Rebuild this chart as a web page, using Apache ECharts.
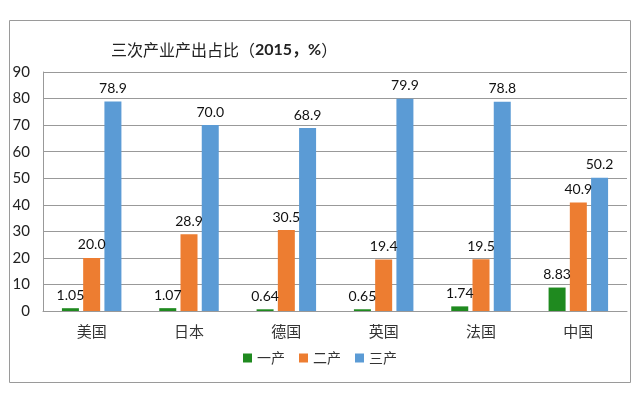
<!DOCTYPE html>
<html><head><meta charset="utf-8">
<script src="https://cdn.jsdelivr.net/npm/echarts@6/dist/echarts.min.js"></script>
<style>html,body{margin:0;padding:0;background:#fff}#c{width:640px;height:394px}</style>
</head><body><div id="c"></div>
<script>
const categories = ['美国','日本','德国','英国','法国','中国'];
const primary = [1.05, 1.07, 0.64, 0.65, 1.74, 8.83];
const secondary = [20.0, 28.9, 30.5, 19.4, 19.5, 40.9];
const tertiary = [78.9, 70.0, 68.9, 79.9, 78.8, 50.2];
const seriesNames = ['一产','二产','三产'];
const yTicks = {min: 0, max: 90, interval: 10};

const FONT = 'Lato, "Noto Sans CJK SC", sans-serif';
const colors = ['#1f8a1f', '#ED7D31', '#5B9BD5'];
const chart = echarts.init(document.getElementById('c'));
function mk(name, data, color, dec) {
  return {
    name, type: 'bar', data, barWidth: 17, barGap: '25%',
    itemStyle: {color},
    label: {show: true, position: 'top', distance: 6, color: '#111', fontSize: 14, fontFamily: FONT,
      formatter: p => p.value.toFixed(dec)}
  };
}
chart.setOption({
  animation: false,
  title: {
    text: '{a|三次产业产出占比（}{b|2015，%}{a|）}',
    left: 106, top: 37,
    textStyle: {fontWeight: 'normal', rich: {
      a: {fontSize: 16, fontWeight: 'normal', fontFamily: '"Noto Sans CJK SC"', color: '#222'},
      b: {fontSize: 16, fontWeight: 'bold', fontFamily: FONT, color: '#222'}
    }}
  },
  graphic: [{type: 'rect', shape: {x: 9.5, y: 20.5, width: 621, height: 362},
    style: {fill: 'none', stroke: '#9a9a9a', lineWidth: 1}, z: -1}],
  legend: {
    bottom: 24, left: 'center', itemWidth: 9, itemHeight: 9, itemGap: 14,
    icon: 'rect',
    textStyle: {fontSize: 14, fontFamily: '"Noto Sans CJK SC"', color: '#333'},
    data: seriesNames
  },
  grid: {left: 43, right: 13, top: 72, bottom: 83},
  xAxis: {
    type: 'category', data: categories,
    axisLine: {lineStyle: {color: '#999'}}, axisTick: {show: false},
    axisLabel: {fontSize: 15, fontFamily: '"Noto Sans CJK SC"', color: '#333', margin: 13}
  },
  yAxis: {
    type: 'value', min: yTicks.min, max: yTicks.max, interval: yTicks.interval,
    axisLine: {show: true, lineStyle: {color: '#999'}}, axisTick: {show: false},
    splitLine: {lineStyle: {color: '#999'}},
    axisLabel: {fontSize: 15, fontFamily: FONT, color: '#222', margin: 13}
  },
  series: [mk(seriesNames[0], primary, colors[0], 2), mk(seriesNames[1], secondary, colors[1], 1), mk(seriesNames[2], tertiary, colors[2], 1)]
});
</script></body></html>
